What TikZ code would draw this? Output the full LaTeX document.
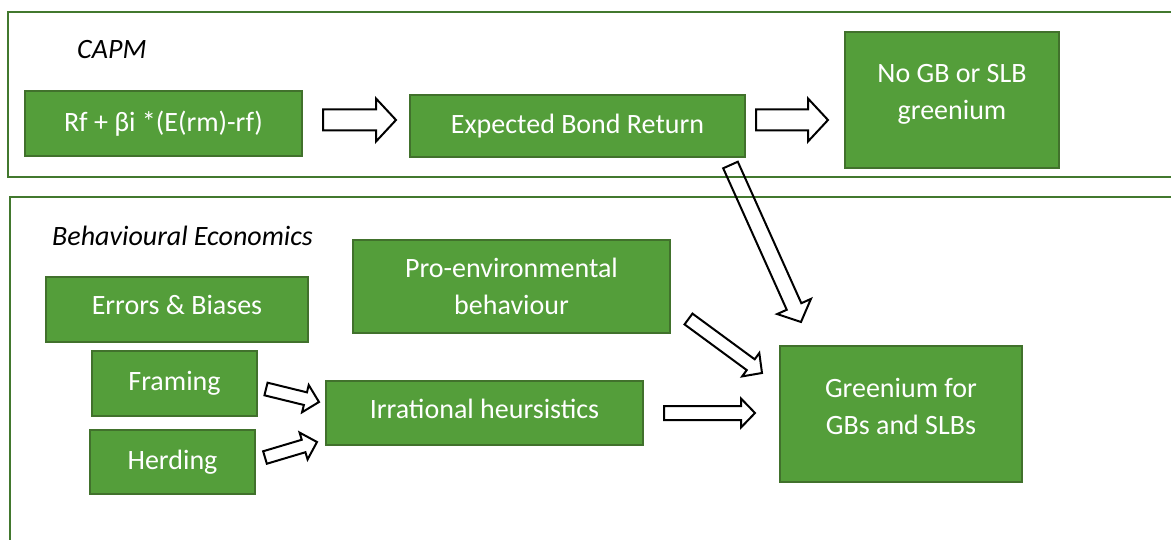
\documentclass[tikz,border=0pt]{standalone}
\usepackage{fontspec}
\setmainfont{Carlito}
\usetikzlibrary{calc}
\definecolor{boxfill}{RGB}{84,158,58}
\definecolor{boxline}{RGB}{65,113,44}
\definecolor{framecolor}{RGB}{66,120,46}
\tikzset{
boxtext/.style={
  align=center,
  font=\fontsize{28}{37}\selectfont,
  text=white
},
greenbox/.style={
  draw=boxline,
  line width=2pt,
  fill=boxfill,
  inner sep=0pt,
  boxtext
},
framebox/.style={
  draw=framecolor,
  line width=2.5pt
},
headlabel/.style={
  font=\fontsize{28}{34}\selectfont\itshape,
  text=black,
  inner sep=0pt
},
blockarrow/.style={
  draw=black,
  line width=2pt,
  line join=miter
}
}
% hollow block arrow: start, end, half body width, half head width, head length
\newcommand{\blockarrow}[5]{%
  \coordinate (ba-s) at #1;
  \coordinate (ba-t) at #2;
  \coordinate (ba-h) at ($(ba-t)!#5!(ba-s)$);
  \draw[blockarrow] ($(ba-s)!#3!90:(ba-t)$) -- ($(ba-h)!#3!90:(ba-t)$)
    -- ($(ba-h)!#4!90:(ba-t)$) -- (ba-t) -- ($(ba-h)!#4!-90:(ba-t)$)
    -- ($(ba-h)!#3!-90:(ba-t)$) -- ($(ba-s)!#3!-90:(ba-t)$) -- cycle;
}

\begin{document}
\begin{tikzpicture}[x=1pt,y=-1pt]
  \clip (0,0) rectangle (1171,540);

  % frames
  \draw[framebox] (8,12) rectangle (1190,177);
  \draw[framebox] (10,197) rectangle (1190,570);

  \node[headlabel, anchor=base west] (capm) at (77,59) {CAPM};
  \node[headlabel, anchor=base west] (behav) at (52,246) {Behavioural Economics};

  % CAPM row
  \node[greenbox, minimum width=277, minimum height=65] (rf) at (163.5,123.5) {Rf + βi *(E(rm)-rf)};
  \node[greenbox, minimum width=335, minimum height=62] (exp) at (577.5,126) {Expected Bond Return};
  \node[greenbox, minimum width=214, minimum height=136, text depth=16pt] (nogb) at (952,100) {No GB or SLB\\greenium};

  % behavioural part
  \node[greenbox, minimum width=262, minimum height=65, text depth=10pt] (errors) at (177,309.5) {Errors \& Biases};
  \node[greenbox, minimum width=317, minimum height=93] (proenv) at (511.5,286.5) {Pro-environmental\\behaviour};
  \node[greenbox, minimum width=165, minimum height=65] (framing) at (174.5,383.5) {Framing};
  \node[greenbox, minimum width=165, minimum height=64] (herding) at (172.5,462) {Herding};
  \node[greenbox, minimum width=317, minimum height=64, text depth=9pt] (irr) at (484.5,413) {Irrational heursistics};
  \node[greenbox, minimum width=242, minimum height=136, text depth=16pt] (green) at (901,414) {Greenium for\\GBs and SLBs};

  % arrows
  \blockarrow{($(rf.east)+(20,-3.5)$)}{($(exp.west)+(-13,-6)$)}{10.5pt}{21.5pt}{20pt}
  \blockarrow{($(exp.east)+(10,-6)$)}{($(nogb.west)+(-16,20)$)}{10.5pt}{21.5pt}{20pt}
  \blockarrow{($(exp.south east)+(-15.5,7)$)}{($(green.north west)+(22,-23)$)}{8pt}{18.5pt}{17pt}
  \blockarrow{($(proenv.south east)+(17.5,-15)$)}{($(green.west)+(-17,-41)$)}{6.7pt}{14.5pt}{14pt}
  \blockarrow{($(framing.east)+(8,5.5)$)}{($(irr.west)+(-6,-11)$)}{6.5pt}{14pt}{14pt}
  \blockarrow{($(herding.east)+(9,-4.5)$)}{($(irr.west)+(-8,29)$)}{6.5pt}{14pt}{14pt}
  \blockarrow{($(irr.east)+(20,0)$)}{($(green.west)+(-24,-1)$)}{7pt}{14.5pt}{14pt}
\end{tikzpicture}
\end{document}
